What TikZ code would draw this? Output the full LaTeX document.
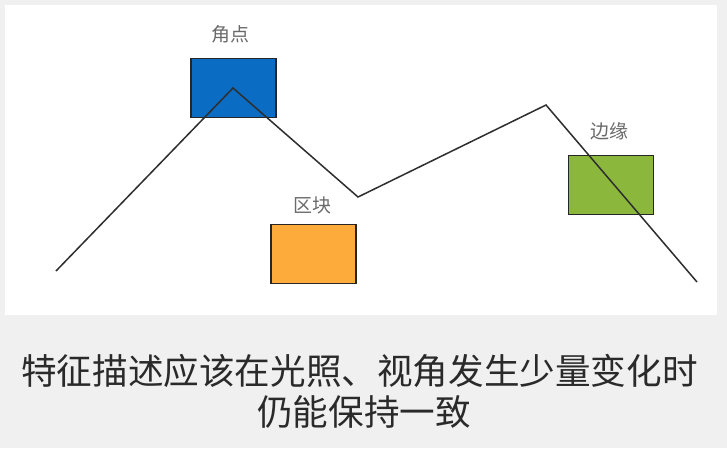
\documentclass[tikz,border=0pt]{standalone}
\usepackage{fontspec}
\newfontfamily\cjk{Noto Sans CJK SC}
\definecolor{bgGray}{HTML}{F0F0F0}
\definecolor{boxBlue}{HTML}{0A6CC2}
\definecolor{boxOrange}{HTML}{FDAB3A}
\definecolor{boxGreen}{HTML}{8BB83C}
\definecolor{lineGray}{HTML}{2E2E2E}
\definecolor{labelGray}{HTML}{6A6A6A}
\definecolor{textDark}{HTML}{2A2A2A}
\tikzset{
  featbox/.style={draw=black!85, line width=1.8pt, minimum width=85pt, minimum height=59pt, inner sep=0pt},
  featlabel/.style={font=\cjk\fontsize{19}{22}\selectfont, text=labelGray, inner sep=0pt},
  caption/.style={font=\cjk\fontsize{35.6}{40}\selectfont, text=textDark, inner sep=0pt},
  profile/.style={draw=lineGray, line width=1.5pt, line join=miter}
}
\begin{document}
\begin{tikzpicture}[x=1pt,y=-1pt]
\useasboundingbox (0,0) rectangle (727,448);
\fill[bgGray] (0,0) rectangle (727,448);
\fill[white] (5,5) rectangle (717,315);
% boxes
\node[featbox, fill=boxBlue] (corner) at (233.5,88) {};
\node[featbox, fill=boxOrange] (blob) at (313.5,254) {};
\node[featbox, fill=boxGreen] (edge) at (611,185) {};
% labels
\node[featlabel] (lcorner) at (230.5,34) {角点};
\node[featlabel] (lblob) at (312,205) {区块};
\node[featlabel] (ledge) at (609,131) {边缘};
% profile line
\coordinate (p1) at (56,271);
\coordinate (p2) at (233,88);
\coordinate (p3) at (358,197);
\coordinate (p4) at (546,105);
\coordinate (p5) at (697,282);
\draw[profile] (p1) -- (p2) -- (p3) -- (p4) -- (p5);
% caption
\node[caption] (cap1) at (359.5,371) {特征描述应该在光照、视角发生少量变化时};
\node[caption] (cap2) at (364,412) {仍能保持一致};
\end{tikzpicture}
\end{document}
